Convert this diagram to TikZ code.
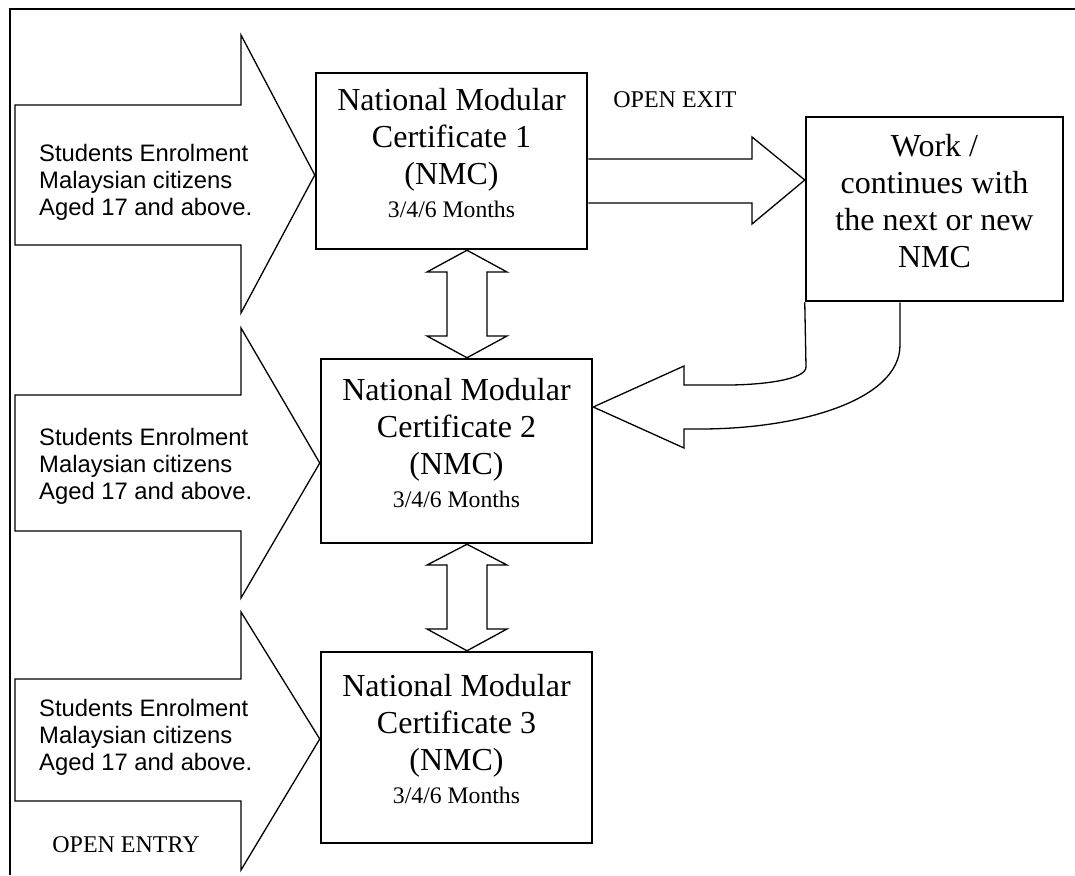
\documentclass[tikz,border=0pt]{standalone}
\usepackage{fontspec}
\setmainfont{Liberation Serif}
\newfontfamily\arialfont{Liberation Sans}
\usetikzlibrary{calc}
\tikzset{
  box/.style={draw,line width=2.5pt,fill=white,minimum width=271pt,
    align=center,inner sep=0pt,text depth=17pt,font=\fontsize{32}{37}\selectfont},
  blockarrow/.style={draw,line width=1.3pt,line join=miter},
  entry/.style={font=\arialfont\fontsize{23.8}{27}\selectfont,align=left,
    anchor=west,inner sep=0pt},
  tag/.style={font=\fontsize{24}{28}\selectfont,inner sep=0pt},
}
\newcommand{\months}{{\fontsize{23.7}{28}\selectfont 3/4/6 Months}}

\begin{document}
\begin{tikzpicture}[x=1pt,y=-1pt]
  \useasboundingbox (0,0) rectangle (1075,875);
  \draw[line width=1.8pt] (1075,9) -- (10,9) -- (10,875);

  % certificate boxes
  \node[box,minimum height=176pt] (nmc1) at (451.5,161)
    {National Modular\\Certificate 1\\(NMC)\\[-4pt]\months};
  \node[box,minimum height=184pt] (nmc2) at (456.5,451)
    {National Modular\\Certificate 2\\(NMC)\\[-4pt]\months};
  \node[box,minimum height=191pt] (nmc3) at (456.5,747.5)
    {National Modular\\Certificate 3\\(NMC)\\[-4pt]\months};
  \node[box,minimum width=257pt,minimum height=184pt] (work) at (934.5,209)
    {Work /\\continues with\\the next or new\\NMC};

  % open entry
  \draw[blockarrow] (15,105) -- (241,105) -- (241,35) -- (nmc1.west |- 0,175)
    -- (241,313) -- (241,245) -- (15,245) -- cycle;
  \node[entry] (in1) at (39,182) {Students Enrolment\\Malaysian citizens\\Aged 17 and above.};
  \draw[blockarrow] (15,395) -- (241,395) -- (241,328) -- (nmc2.west |- 0,463)
    -- (241,598) -- (241,531) -- (15,531) -- cycle;
  \node[entry] (in2) at (39,466) {Students Enrolment\\Malaysian citizens\\Aged 17 and above.};
  \draw[blockarrow] (15,679) -- (241,679) -- (241,612) -- (nmc3.west |- 0,739)
    -- (241,870) -- (241,801) -- (15,801) -- cycle;
  \node[entry] (in3) at (39,737) {Students Enrolment\\Malaysian citizens\\Aged 17 and above.};
  \node[tag] (entrytag) at (126,845) {OPEN ENTRY};

  % between the levels
  \draw[blockarrow] (nmc1.south -| 467,0) -- (507,272) -- (487,272) -- (487,336)
    -- (507,336) -- (nmc2.north -| 467,0) -- (427,336) -- (447,336) -- (447,272)
    -- (427,272) -- cycle;
  \draw[blockarrow] (nmc2.south -| 467,0) -- (507,565) -- (487,565) -- (487,629)
    -- (507,629) -- (nmc3.north -| 467,0) -- (427,629) -- (447,629) -- (447,565)
    -- (427,565) -- cycle;

  % open exit
  \draw[blockarrow] (nmc1.east |- 0,159) -- (752,159) -- (752,137)
    -- (work.west |- 0,180) -- (752,224) -- (752,203) -- (nmc1.east |- 0,203);
  \node[tag] (exittag) at (675,100) {OPEN EXIT};

  % back to the next certificate
  \draw[blockarrow] (work.south west) -- (806,367)
    .. controls (806,380) and (760,385) .. (727,385) -- (684,385) -- (684,366)
    -- (nmc2.east |- 0,407) -- (684,448) -- (684,429) -- (700,429)
    .. controls (800,429) and (900,400) .. (900,345) -- (work.south -| 900,0);
\end{tikzpicture}
\end{document}
